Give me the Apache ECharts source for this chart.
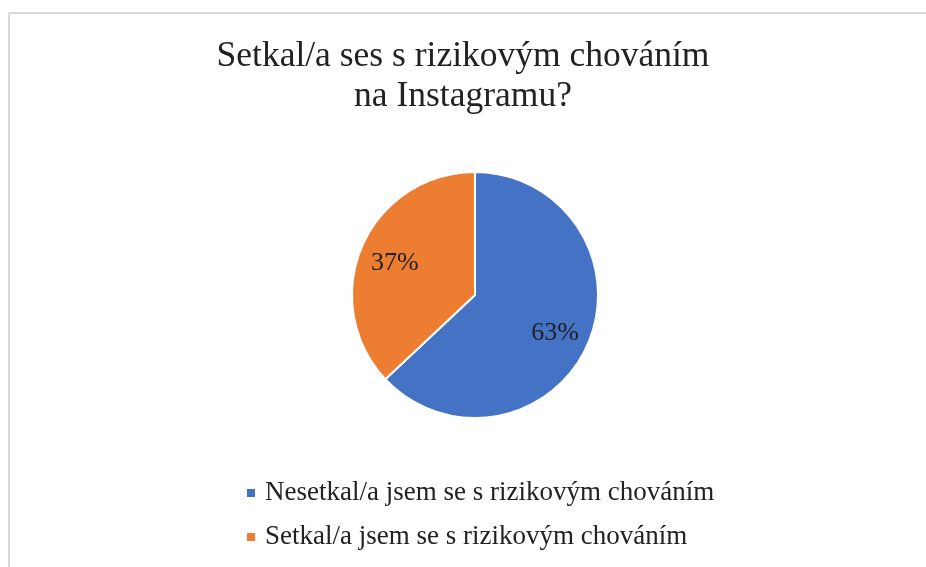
<!DOCTYPE html>
<html>
<head>
<meta charset="utf-8">
<script src="https://cdn.jsdelivr.net/npm/echarts@6/dist/echarts.min.js"></script>
<style>
html,body{margin:0;padding:0;background:#fff;}
#chart{width:926px;height:567px;}
</style>
</head>
<body>
<div id="chart"></div>
<script>
const titleText = "Setkal/a ses s rizikovým chováním\nna Instagramu?";
const categories = ["Nesetkal/a jsem se s rizikovým chováním", "Setkal/a jsem se s rizikovým chováním"];
const values = [63, 37];
const colors = ["#4472C4", "#ED7D31"];

const FONT = "'Liberation Serif', 'Times New Roman', serif";
const CX = 475, CY = 295, R = 123;
const total = values.reduce((a, b) => a + b, 0);

const chart = echarts.init(document.getElementById('chart'));
chart.setOption({
  animation: false,
  backgroundColor: '#fff',
  title: {
    text: titleText,
    left: 'center',
    top: 37,
    padding: 0,
    textStyle: { fontFamily: FONT, fontSize: 35.5, fontWeight: 'normal', color: '#222', lineHeight: 40 }
  },
  legend: {
    orient: 'vertical',
    left: 245,
    top: 478,
    padding: 0,
    itemWidth: 10,
    itemHeight: 10,
    itemGap: 14,
    icon: 'rect',
    selectedMode: false,
    data: categories,
    textStyle: { fontFamily: FONT, fontSize: 27, lineHeight: 30, color: '#222', padding: [0, 0, 0, 4] }
  },
  graphic: [
    { type: 'line', shape: { x1: 8, y1: 13, x2: 926, y2: 13 }, style: { stroke: '#d9d9d9', lineWidth: 2 } },
    { type: 'line', shape: { x1: 9, y1: 12, x2: 9, y2: 567 }, style: { stroke: '#d9d9d9', lineWidth: 2 } }
  ],
  series: [{
    type: 'pie',
    center: [CX, CY],
    radius: R,
    startAngle: 90,
    clockwise: true,
    avoidLabelOverlap: false,
    itemStyle: { borderColor: '#fff', borderWidth: 2 },
    emphasis: { disabled: true },
    label: {
      show: true,
      position: 'inside',
      formatter: p => Math.round(p.value / total * 100) + '%',
      fontFamily: FONT,
      fontSize: 26,
      color: '#222'
    },
    labelLine: { show: false },
    labelLayout: function (params) {
      let cum = 0;
      for (let i = 0; i < params.dataIndex; i++) cum += values[i];
      const mid = cum + values[params.dataIndex] / 2;
      const ang = (90 - mid / total * 360) * Math.PI / 180;
      const d = R * 0.71;
      return { x: CX + d * Math.cos(ang), y: CY - d * Math.sin(ang) + 3, align: 'center', verticalAlign: 'middle' };
    },
    data: categories.map((n, i) => ({ name: n, value: values[i], itemStyle: { color: colors[i] } }))
  }]
});
</script>
</body>
</html>
